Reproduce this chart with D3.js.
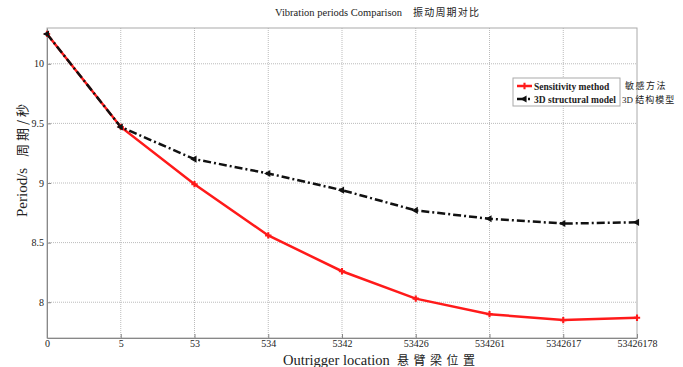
<!DOCTYPE html>
<html>
<head>
<meta charset="utf-8">
<script src="https://cdn.jsdelivr.net/npm/d3@7"></script>
<style>
  body { margin: 0; background: #fff; }
  svg { display: block; }
  text { font-family: "Liberation Serif", "Times New Roman", serif; fill: #222; }
  .cjk { font-family: "Noto Sans CJK SC", sans-serif; }
</style>
</head>
<body>
<div id="container"></div>
<script>
// categories and series
const locations = ["0", "5", "53", "534", "5342", "53426", "534261", "5342617", "53426178"]
const sensitivity = [10.25, 9.47, 8.99, 8.56, 8.26, 8.03, 7.90, 7.85, 7.87]
const structural = [10.25, 9.47, 9.20, 9.08, 8.94, 8.77, 8.70, 8.66, 8.67]
const yTicks = [8, 8.5, 9, 9.5, 10]

const w = 683
const h = 367
const pLeft = 47, pRight = 637, pTop = 28, pBottom = 338

const svg = d3.select("#container")
    .append("svg")
    .attr("width", w)
    .attr("height", h)

const xScale = d3.scalePoint()
    .domain(locations)
    .range([pLeft, pRight])
const yScale = d3.scaleLinear()
    .domain([7.7, 10.3])
    .range([pBottom, pTop])

// grid, dotted
const grid = svg.append("g")
grid.selectAll(".vg")
    .data(locations.slice(1, -1))
    .enter()
    .append("line")
    .attr("x1", (d) => xScale(d))
    .attr("x2", (d) => xScale(d))
    .attr("y1", pTop)
    .attr("y2", pBottom)
    .attr("stroke", "#bbb")
    .attr("stroke-width", 1)
    .attr("stroke-dasharray", "1,1")
grid.selectAll(".hg")
    .data(yTicks)
    .enter()
    .append("line")
    .attr("x1", pLeft)
    .attr("x2", pRight)
    .attr("y1", (d) => yScale(d))
    .attr("y2", (d) => yScale(d))
    .attr("stroke", "#bbb")
    .attr("stroke-width", 1)
    .attr("stroke-dasharray", "1,1")

// box
svg.append("rect")
    .attr("x", pLeft)
    .attr("y", pTop)
    .attr("width", pRight - pLeft)
    .attr("height", pBottom - pTop)
    .attr("fill", "none")
    .attr("stroke", "#aaa")
    .attr("stroke-width", 1)

// axes, ticks pointing inward like matlab
const xAxis = d3.axisBottom(xScale).tickSizeInner(-4).tickSizeOuter(0).tickPadding(2)
const yAxis = d3.axisLeft(yScale).tickValues(yTicks).tickFormat((d) => d).tickSizeInner(-4).tickSizeOuter(0).tickPadding(3)

const gx = svg.append("g")
    .attr("transform", `translate(0, ${pBottom})`)
    .call(xAxis)
const gy = svg.append("g")
    .attr("transform", `translate(${pLeft}, 0)`)
    .call(yAxis)
for (const g of [gx, gy]) {
    g.attr("font-family", null)
    g.select(".domain").attr("stroke", "#888")
    g.selectAll(".tick line").attr("stroke", "#888")
    g.selectAll(".tick text")
        .attr("fill", "#333")
        .style("font-size", "10px")
}

// series
const line = d3.line()
    .x((d, i) => xScale(locations[i]))
    .y((d) => yScale(d))

svg.append("path")
    .datum(sensitivity)
    .attr("d", line)
    .attr("fill", "none")
    .attr("stroke", "#ff1a1a")
    .attr("stroke-width", 2.5)
svg.append("path")
    .datum(structural)
    .attr("d", line)
    .attr("fill", "none")
    .attr("stroke", "#111")
    .attr("stroke-width", 2.5)
    .attr("stroke-dasharray", "8,3,2,3")

svg.selectAll(".mr")
    .data(sensitivity)
    .enter()
    .append("path")
    .attr("d", d3.symbol(d3.symbolCross, 22))
    .attr("transform", (d, i) => `translate(${xScale(locations[i])}, ${yScale(d)})`)
    .attr("fill", "#ff1a1a")
svg.selectAll(".mb")
    .data(structural)
    .enter()
    .append("path")
    .attr("d", d3.symbol(d3.symbolTriangle, 22))
    .attr("transform", (d, i) => `translate(${xScale(locations[i])}, ${yScale(d)}) rotate(-90)`)
    .attr("fill", "#111")

// legend
const legend = svg.append("g").attr("transform", "translate(513, 78)")
legend.append("rect")
    .attr("width", 107)
    .attr("height", 28)
    .attr("fill", "#fff")
    .attr("stroke", "#aaa")
legend.append("line")
    .attr("x1", 4).attr("x2", 19).attr("y1", 8).attr("y2", 8)
    .attr("stroke", "#ff1a1a").attr("stroke-width", 2.5)
legend.append("path")
    .attr("d", d3.symbol(d3.symbolCross, 22))
    .attr("transform", "translate(11.5, 8)")
    .attr("fill", "#ff1a1a")
legend.append("line")
    .attr("x1", 4).attr("x2", 19).attr("y1", 21).attr("y2", 21)
    .attr("stroke", "#111").attr("stroke-width", 2.5)
    .attr("stroke-dasharray", "8,3,2,3")
legend.append("path")
    .attr("d", d3.symbol(d3.symbolTriangle, 22))
    .attr("transform", "translate(11.5, 21) rotate(-90)")
    .attr("fill", "#111")
legend.append("text")
    .attr("x", 21).attr("y", 11.5)
    .style("font-size", "9.5px").style("font-weight", "bold")
    .text("Sensitivity method")
legend.append("text")
    .attr("x", 21).attr("y", 24.5)
    .style("font-size", "9.5px").style("font-weight", "bold")
    .text("3D structural model")
svg.append("text")
    .attr("class", "cjk")
    .attr("x", 625).attr("y", 89)
    .style("font-size", "9px").style("letter-spacing", "1.5px")
    .text("敏感方法")
svg.append("text")
    .attr("x", 622).attr("y", 103)
    .style("font-size", "9px")
    .text("3D ")
    .append("tspan")
    .attr("class", "cjk")
    .style("letter-spacing", "1px")
    .text("结构模型")

// title
const title = svg.append("text")
    .attr("x", 275).attr("y", 16)
    .style("font-size", "10.5px")
    .text("Vibration periods Comparison")
title.append("tspan")
    .attr("class", "cjk")
    .attr("x", 413)
    .style("font-size", "10px")
    .style("letter-spacing", "1.2px")
    .text("振动周期对比")

// axis labels
const xl = svg.append("text")
    .attr("x", 283).attr("y", 364.5)
    .style("font-size", "14.5px")
    .text("Outrigger location")
xl.append("tspan")
    .attr("class", "cjk")
    .attr("x", 397)
    .style("font-size", "12px")
    .style("letter-spacing", "4.5px")
    .text("悬臂梁位置")

const yl = svg.append("text")
    .attr("transform", "translate(27, 0) rotate(-90)")
    .attr("x", -217)
    .style("font-size", "15px")
    .text("Period/s")
yl.append("tspan")
    .attr("class", "cjk")
    .attr("x", -157)
    .style("font-size", "13px")
    .style("letter-spacing", "3px")
    .text("周期/秒")
</script>
</body>
</html>
